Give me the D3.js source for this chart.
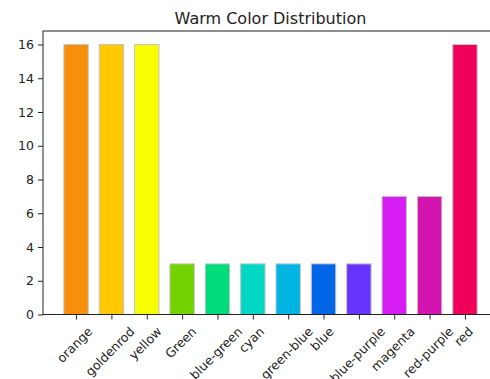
<!DOCTYPE html>
<html><head><meta charset="utf-8">
<script src="https://cdn.jsdelivr.net/npm/d3@7"></script>
<style>body{margin:0;background:#fff}svg{display:block}text{font-family:"DejaVu Sans",sans-serif;fill:#222}</style>
</head><body><svg id="c" width="490" height="379"></svg>
<script>
const categories = ["orange","goldenrod","yellow","Green","blue-green","cyan","green-blue","blue","blue-purple","magenta","red-purple","red"];
const values = [16,16,16,3,3,3,3,3,3,7,7,16];
const colors = ["#f78f0b","#ffc800","#f8ff00","#72d300","#00db7c","#00d8c4","#00b5e4","#0066e6","#6633ff","#d61ef4","#d414b0","#ef0059"];
const yTicks = [0,2,4,6,8,10,12,14,16];
const title = "Warm Color Distribution";

const svg = d3.select("#c");
const L = 43, R = 498, T = 31, B = 314.5;
const n = categories.length;
const x = d3.scaleLinear().domain([-0.935, n - 1 + 0.935]).range([L, R]);
const y = d3.scaleLinear().domain([0, 16.8]).range([B, T]);
const bw = 0.69;
const fs = 12.5;

svg.append("g").selectAll("rect").data(values).join("rect")
  .attr("x", (d,i) => x(i - bw/2))
  .attr("width", (d,i) => x(i + bw/2) - x(i - bw/2))
  .attr("y", d => y(d))
  .attr("height", d => y(0) - y(d))
  .attr("fill", (d,i) => colors[i])
  .attr("stroke", "#c4c4c4").attr("stroke-width", 1);

// y axis
const ya = svg.append("g").attr("transform", `translate(${L},0)`)
  .call(d3.axisLeft(y).tickValues(yTicks).tickSize(5).tickPadding(4));
ya.select(".domain").remove();
ya.selectAll("text").style("font-size", fs + "px").attr("fill","#222");
ya.selectAll("line").attr("stroke","#222");

// x axis ticks
const xa = svg.append("g").attr("transform", `translate(0,${B})`)
  .call(d3.axisBottom(x).tickValues(d3.range(n)).tickSize(5).tickFormat(""));
xa.select(".domain").remove();
xa.selectAll("line").attr("stroke","#222");

// rotated labels
const top0 = B + 9.5;
const lg = svg.append("g");
categories.forEach((c,i) => {
  const t = lg.append("text").text(c).style("font-size", fs + "px")
    .attr("text-anchor","middle").attr("dominant-baseline","central");
  const len = t.node().getComputedTextLength();
  const h = fs * 1.17;
  const H = (len + h) * Math.SQRT1_2;
  t.attr("transform", `translate(${x(i) - 1.5},${top0 + H/2}) rotate(-45)`);
});

// spines
const sp = svg.append("g").attr("stroke","#222").attr("stroke-width",1).attr("fill","none");
sp.append("rect").attr("x",L).attr("y",T).attr("width",R-L).attr("height",B-T);

svg.append("text").attr("x",(L+R)/2).attr("y",23.5).attr("text-anchor","middle")
  .style("font-size","16px").text(title);
</script></body></html>
